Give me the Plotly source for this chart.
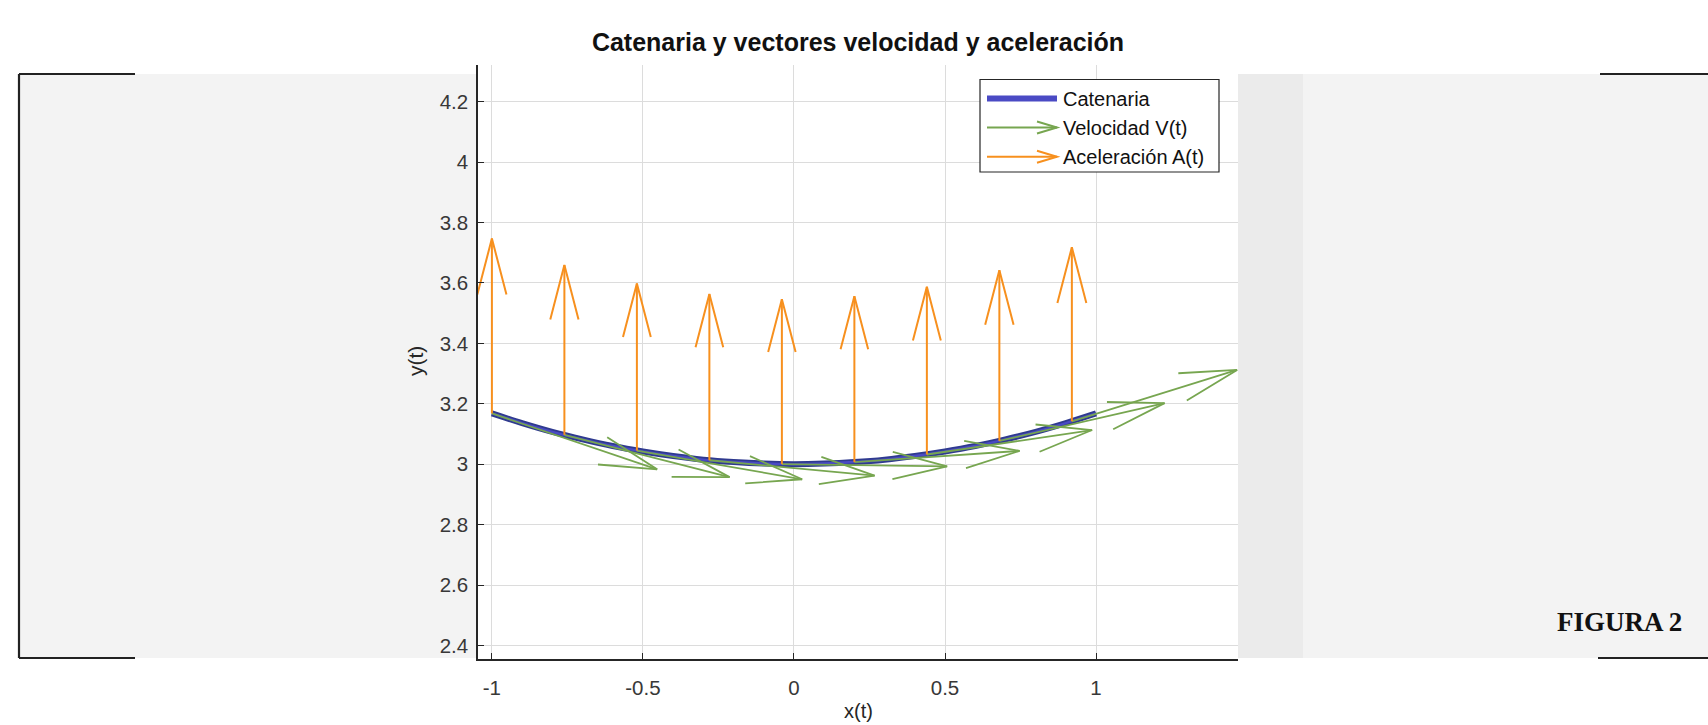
import plotly.graph_objects as go

# ---------------- data ----------------
cat_x = [-1.0, -0.9, -0.8, -0.7, -0.6, -0.5, -0.4, -0.3, -0.2, -0.1, 0.0,
         0.1, 0.2, 0.3, 0.4, 0.5, 0.6, 0.7, 0.8, 0.9, 1.0]
cat_y = [3.168, 3.136, 3.107, 3.082, 3.060, 3.042, 3.027, 3.015, 3.007, 3.002, 3.000,
         3.002, 3.007, 3.015, 3.027, 3.042, 3.060, 3.082, 3.107, 3.136, 3.168]

pt_x = [-1.0, -0.76, -0.52, -0.28, -0.04, 0.20, 0.44, 0.68, 0.92]
pt_y = [3.168, 3.097, 3.045, 3.013, 3.000, 3.007, 3.032, 3.077, 3.142]

vel_u = [0.547, 0.547, 0.547, 0.547, 0.547, 0.547, 0.547, 0.547, 0.547]
vel_v = [-0.185, -0.140, -0.095, -0.051, -0.007, 0.037, 0.081, 0.125, 0.170]

acc_u = [0.0, 0.0, 0.0, 0.0, 0.0, 0.0, 0.0, 0.0, 0.0]
acc_v = [0.579, 0.562, 0.553, 0.550, 0.546, 0.549, 0.555, 0.565, 0.576]

x_ticks = [-1, -0.5, 0, 0.5, 1]
x_labels = ["-1", "-0.5", "0", "0.5", "1"]
y_ticks = [2.4, 2.6, 2.8, 3.0, 3.2, 3.4, 3.6, 3.8, 4.0, 4.2]
y_labels = ["2.4", "2.6", "2.8", "3", "3.2", "3.4", "3.6", "3.8", "4", "4.2"]

title_text = "Catenaria y vectores velocidad y aceleración"
legend_names = ["Catenaria", "Velocidad V(t)", "Aceleración A(t)"]

# ---------------- styles ----------------
W, H = 1708, 725
PL, PR, PT, PB = 478, 1238, 65, 659          # plot area in pixels
x_range = [-1.046, 1.470]
y_range = [2.355, 4.3215]

BLUE_DARK = "#2f3a8f"
BLUE = "#4a4ac4"
GREEN = "#77a650"
ORANGE = "#f7901e"
FONT = "Liberation Sans"


def px(xp):
    return (xp - PL) / (PR - PL)


def py(yp):
    return (PB - yp) / (PB - PT)


def quiver(x, y, u, v, alpha, beta):
    xs, ys = [], []
    for xi, yi, ui, vi in zip(x, y, u, v):
        tx, ty = xi + ui, yi + vi
        xs += [xi, tx, None]
        ys += [yi, ty, None]
        xs += [tx - alpha * (ui + beta * vi), tx, tx - alpha * (ui - beta * vi), None]
        ys += [ty - alpha * (vi - beta * ui), ty, ty - alpha * (vi + beta * ui), None]
    return xs, ys


fig = go.Figure()

fig.add_trace(go.Scatter(x=cat_x, y=cat_y, mode="lines", name=legend_names[0],
                         line=dict(color=BLUE_DARK, width=6, shape="spline"),
                         showlegend=False, hoverinfo="skip"))
fig.add_trace(go.Scatter(x=cat_x, y=cat_y, mode="lines", name=legend_names[0],
                         line=dict(color=BLUE, width=2.5, shape="spline"),
                         showlegend=False))

vx, vy = quiver(pt_x, pt_y, vel_u, vel_v, 0.33, 0.25)
fig.add_trace(go.Scatter(x=vx, y=vy, mode="lines", name=legend_names[1],
                         line=dict(color=GREEN, width=1.8), showlegend=False))

ax, ay = quiver(pt_x, pt_y, acc_u, acc_v, 0.32, 0.26)
fig.add_trace(go.Scatter(x=ax, y=ay, mode="lines", name=legend_names[2],
                         line=dict(color=ORANGE, width=2), showlegend=False))

shapes = []
# document gray panel pieces (outside the plot area)
shapes.append(dict(type="rect", xref="paper", yref="paper", layer="below",
                   x0=px(19), x1=px(PL), y0=py(658), y1=py(74),
                   fillcolor="#f3f3f3", line=dict(width=0)))
shapes.append(dict(type="rect", xref="paper", yref="paper", layer="below",
                   x0=px(PR), x1=px(1303), y0=py(658), y1=py(74),
                   fillcolor="#ebebeb", line=dict(width=0)))
shapes.append(dict(type="rect", xref="paper", yref="paper", layer="below",
                   x0=px(1303), x1=px(W + 2), y0=py(658), y1=py(74),
                   fillcolor="#f3f3f3", line=dict(width=0)))
# brackets
bk = dict(color="#222222", width=2.2)
shapes.append(dict(type="line", xref="paper", yref="paper", x0=px(19), x1=px(19),
                   y0=py(658), y1=py(74), line=bk))
shapes.append(dict(type="line", xref="paper", yref="paper", x0=px(19), x1=px(135),
                   y0=py(74), y1=py(74), line=bk))
shapes.append(dict(type="line", xref="paper", yref="paper", x0=px(19), x1=px(135),
                   y0=py(658), y1=py(658), line=bk))
shapes.append(dict(type="line", xref="paper", yref="paper", x0=px(1600), x1=px(W + 2),
                   y0=py(74), y1=py(74), line=bk))
shapes.append(dict(type="line", xref="paper", yref="paper", x0=px(1598), x1=px(W + 2),
                   y0=py(658), y1=py(658), line=bk))

# custom legend
shapes.append(dict(type="rect", xref="paper", yref="paper", layer="above",
                   x0=px(980), x1=px(1219), y0=py(172), y1=py(79.5),
                   fillcolor="white", line=dict(color="#262626", width=1.2)))
ly = [98.5, 127.5, 156.8]
lx0, lx1 = 987, 1057
shapes.append(dict(type="line", xref="paper", yref="paper", layer="above",
                   x0=px(lx0), x1=px(lx1), y0=py(ly[0]), y1=py(ly[0]),
                   line=dict(color=BLUE, width=6)))
for yy, col in [(ly[1], GREEN), (ly[2], ORANGE)]:
    shapes.append(dict(type="line", xref="paper", yref="paper", layer="above",
                       x0=px(lx0), x1=px(lx1), y0=py(yy), y1=py(yy),
                       line=dict(color=col, width=2)))
    shapes.append(dict(type="path", xref="paper", yref="paper", layer="above",
                       path="M {a},{b} L {c},{d} L {e},{f}".format(
                           a=px(lx1 - 20), b=py(yy - 6), c=px(lx1), d=py(yy),
                           e=px(lx1 - 20), f=py(yy + 6)),
                       line=dict(color=col, width=2)))

annotations = []
for name, yy in zip(legend_names, ly):
    annotations.append(dict(text=name, xref="paper", yref="paper", x=px(1061), y=py(yy),
                            xanchor="left", yanchor="middle", showarrow=False,
                            font=dict(family=FONT, size=20, color="#111111")))
annotations.append(dict(text="x(t)", xref="paper", yref="paper", x=0.5, y=py(724),
                        xanchor="center", yanchor="bottom", showarrow=False,
                        font=dict(family=FONT, size=20, color="#262626")))
annotations.append(dict(text="y(t)", xref="paper", yref="paper", x=px(415), y=py(361),
                        xanchor="center", yanchor="middle", textangle=-90, showarrow=False,
                        font=dict(family=FONT, size=21, color="#262626")))
annotations.append(dict(text="FIGURA 2", xref="paper", yref="paper", x=px(1555), y=py(622),
                        xanchor="left", yanchor="middle", showarrow=False,
                        font=dict(family="Liberation Serif", size=27, weight="bold",
                                  color="#111111")))

axis_common = dict(showgrid=True, gridcolor="#dcdcdc", gridwidth=1, zeroline=False,
                   ticks="inside", ticklen=6, tickwidth=1.2, tickcolor="#262626",
                   showline=True, linecolor="#262626", linewidth=1.5, mirror=False,
                   tickfont=dict(family=FONT, size=20.5, color="#383838"))

fig.update_layout(
    width=W, height=H, autosize=False,
    margin=dict(l=PL, r=W - PR, t=PT, b=H - PB, pad=0),
    paper_bgcolor="white", plot_bgcolor="white",
    showlegend=False,
    title=dict(text=title_text, x=0.5, xref="paper", xanchor="center",
               y=1 - 42 / H, yref="container", yanchor="middle",
               font=dict(family=FONT, size=25, weight="bold", color="#111111")),
    xaxis=dict(range=x_range, tickvals=x_ticks, ticktext=x_labels,
               ticklabelstandoff=10, **axis_common),
    yaxis=dict(range=y_range, tickvals=y_ticks, ticktext=y_labels,
               ticklabelstandoff=4, **axis_common),
    shapes=shapes, annotations=annotations,
)

fig.write_html("out.html")
